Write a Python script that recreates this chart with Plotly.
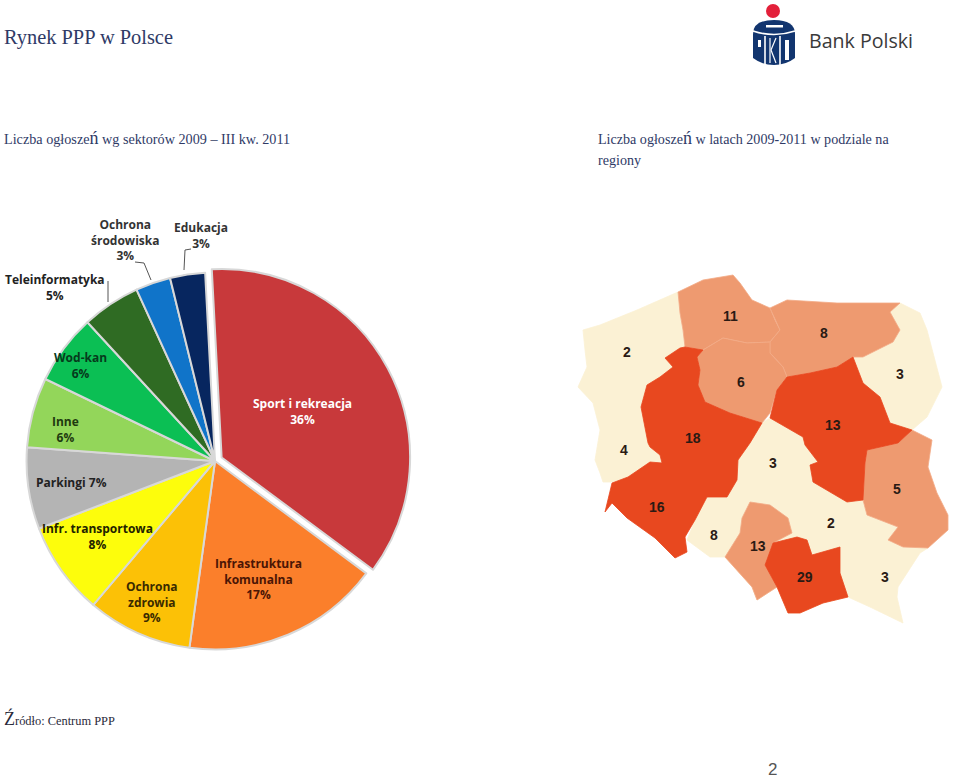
import plotly.graph_objects as go

W, H = 959, 781
NAVY = "#2f3a66"
SERIF = "Liberation Serif"

# ---- Pie data
sectors = ["Sport i rekreacja", "Infrastruktura komunalna", "Ochrona zdrowia", "Infr. transportowa",
           "Parkingi", "Inne", "Wod-kan", "Teleinformatyka", "Ochrona środowiska", "Edukacja"]
shares = [36, 17, 9, 8, 7, 6, 6, 5, 3, 3]
sector_colors = ["#c8393b", "#fb7f2b", "#fcc106", "#fdfd0c", "#b4b4b4",
                 "#93d65a", "#0bbf54", "#2f6b23", "#1074c9", "#07265f"]
pulls = [0.04, 0, 0, 0, 0, 0, 0, 0, 0, 0]

pie_labels = ["Sport i rekreacja<br>36%", "Infrastruktura<br>komunalna<br>17%", "Ochrona<br>zdrowia<br>9%",
              "Infr. transportowa<br>8%", "Parkingi 7%", "Inne<br>6%", "Wod-kan<br>6%",
              "Teleinformatyka<br>5%", "Ochrona<br>środowiska<br>3%", "Edukacja<br>3%"]
pie_label_x = [302, 258, 152, 97, 71, 65, 80, 55, 125, 201]
pie_label_y = [411, 579, 602, 536, 482, 429, 365, 287, 240, 235]
pie_label_colors = ["#ffffff", "#4a1505", "#3a2a00", "#222200", "#222222",
                    "#1f3a10", "#063a1c", "#222222", "#333333", "#333333"]

# ---- Map data: regional outlines
cream_west = [(678,292),(637,310),(600,325),(583,330),(585,350),(587,367),(578,387),(593,403),(600,430),(595,460),
              (600,473),(603,482),(612,482),(628,477),(650,462),(662,463),(660,455),(650,447),(648,443),(641,407),
              (647,385),(660,377),(673,367),(665,358),(680,348),(685,347),(683,330),(680,313)]
pomorskie = [(678,292),(703,280),(733,275),(740,283),(752,300),(770,308),(775,320),(780,330),(770,342),(747,343),
             (723,338),(703,350),(685,347),(683,330),(680,313)]
warminskie = [(770,308),(787,300),(837,303),(900,303),(890,312),(900,330),(893,342),(863,357),(853,357),(837,367),
              (810,373),(787,377),(783,367),(770,353),(770,342),(780,330)]
kujawskie = [(703,350),(697,357),(700,370),(698,385),(705,402),(730,413),(762,423),(770,413),(777,390),(787,377),
             (783,367),(770,353),(770,342),(747,343),(723,338)]
wlkp_dolnoslaskie = [(680,348),(685,347),(703,350),(697,357),(700,370),(698,385),(705,402),(730,413),(762,423),(750,443),
                     (738,460),(737,480),(727,497),(707,497),(695,520),(685,537),(687,552),(675,558),(655,538),(627,518),
                     (612,503),(605,512),(612,483),(628,477),(650,462),(662,463),(660,455),(650,447),(648,443),(641,407),
                     (647,385),(660,377),(673,367),(665,358)]
mazowieckie = [(787,377),(810,373),(837,367),(853,357),(863,383),(880,397),(890,423),(912,430),(898,443),(867,450),
               (865,463),(863,500),(847,502),(813,482),(810,465),(818,462),(805,445),(803,437),(770,418),(777,390)]
podlaskie = [(900,303),(920,313),(927,330),(937,370),(942,387),(927,417),(912,430),(890,423),(880,397),(863,383),
             (853,357),(863,357),(893,342),(900,330),(890,312)]
lubelskie = [(912,430),(932,440),(928,467),(937,493),(948,515),(948,530),(928,548),(903,547),(888,540),(898,527),
             (867,515),(863,500),(865,463),(867,450),(898,443)]
cream_south = [(762,423),(770,418),(803,437),(805,445),(818,462),(810,465),(813,482),(847,502),(863,500),(867,515),
               (898,527),(888,540),(903,547),(928,548),(920,553),(898,587),(897,597),(903,623),(870,607),(848,597),
               (823,603),(800,613),(788,613),(777,587),(757,600),(752,587),(725,557),(710,557),(687,540),(695,520),
               (707,497),(727,497),(737,480),(738,460),(750,443)]
slaskie = [(750,502),(770,505),(788,518),(792,533),(773,543),(765,565),(777,587),(757,600),(752,587),(725,557),
           (740,533),(742,518)]
malopolskie = [(773,543),(797,537),(807,540),(812,555),(840,547),(840,573),(848,597),(823,603),(800,613),(788,613),
               (777,587),(765,565)]
CREAM, SALMON, RED = "#fbf1d4", "#ee9a70", "#e8481f"
regions = [(cream_west, CREAM), (cream_south, CREAM), (podlaskie, CREAM), (pomorskie, SALMON), (warminskie, SALMON),
           (kujawskie, SALMON), (lubelskie, SALMON), (slaskie, SALMON), (wlkp_dolnoslaskie, RED),
           (mazowieckie, RED), (malopolskie, RED)]

map_values = ["11", "8", "2", "6", "3", "13", "18", "4", "3", "5", "16", "2", "8", "13", "29", "3"]
map_x = [730, 824, 627, 741, 900, 833, 693, 624, 773, 897, 657, 831, 714, 758, 805, 885]
map_y = [316, 333, 352, 382, 374, 425, 438, 450, 463, 489, 507, 523, 535, 546, 577, 577]

fig = go.Figure()

# Map
for outline, color in regions:
    fig.add_trace(go.Scatter(x=[p[0] for p in outline] + [outline[0][0]],
                             y=[p[1] for p in outline] + [outline[0][1]],
                             mode="lines", fill="toself", fillcolor=color,
                             line=dict(color=color if color != SALMON else "#f3ab87", width=0.8),
                             hoverinfo="skip", showlegend=False))

# Pie
cx, cy, half = 215, 461, 196
fig.add_trace(go.Pie(labels=sectors, values=shares, sort=False, direction="clockwise", rotation=-3,
                     pull=pulls, textinfo="none", hoverinfo="label+percent", showlegend=False,
                     marker=dict(colors=sector_colors, line=dict(color="#d8d8d8", width=2)),
                     domain=dict(x=[(cx-half)/W, (cx+half)/W], y=[1-(cy+half)/H, 1-(cy-half)/H])))

# Leader lines
leaders = [[(108,281),(108,302)], [(135,262),(144,263),(151,280)], [(191,249),(185,250),(184,270)]]
for seg in leaders:
    fig.add_trace(go.Scatter(x=[p[0] for p in seg], y=[p[1] for p in seg], mode="lines",
                             line=dict(color="#555555", width=1), hoverinfo="skip", showlegend=False))

ann = []
def text(x, y, s, size, color, font=SERIF, anchor="left"):
    ann.append(dict(x=x, y=y, xref="x", yref="y", text=s, showarrow=False, xanchor=anchor, yanchor="middle",
                    font=dict(family=font, size=size, color=color), align="left", borderpad=0))

for s, x, y, c in zip(pie_labels, pie_label_x, pie_label_y, pie_label_colors):
    ann.append(dict(x=x, y=y, xref="x", yref="y", text="<b>%s</b>" % s, showarrow=False, align="center",
                    font=dict(family="Open Sans", size=12, color=c)))
for s, x, y in zip(map_values, map_x, map_y):
    ann.append(dict(x=x, y=y, xref="x", yref="y", text="<b>%s</b>" % s, showarrow=False,
                    font=dict(family="Liberation Sans", size=14, color="#2a1a14")))

big = '<span style="font-size:18px">ń</span>'
text(3, 37, "Rynek PPP w Polsce", 20.4, NAVY)
text(3, 138, "Liczba ogłosze" + big + " wg sektorów 2009 – III kw. 2011", 14.2, NAVY)
text(597, 138, "Liczba ogłosze" + big + " w latach 2009-2011 w podziale na", 14.1, NAVY)
text(597, 160, "regiony", 14.1, NAVY)
text(3, 718, '<span style="font-size:18px">Ź</span>ródło: Centrum PPP', 12.4, "#2a2a3a")
text(772, 769, "2", 17, "#555555", font="Liberation Sans", anchor="center")
text(808, 40, "Bank Polski", 19.6, "#3a3a3a", font="Open Sans")

# Logo (decorative)
def xy(**k):
    return dict(xref="x", yref="y", **k)
shapes = [
    xy(type="circle", x0=766, x1=780, y0=4, y1=18, fillcolor="#e3203a", line_width=0),
    xy(type="path", path="M753,34 Q753,20 774,20 Q795,20 795,34 L795,58 Q786,65 774,65 Q762,65 753,58 Z",
       fillcolor="#12356f", line_width=0),
    xy(type="rect", x0=766, x1=783, y0=25, y1=27.5, fillcolor="white", line_width=0),
    xy(type="path", path="M753,31 Q774,38 795,31", line=dict(color="white", width=1.6)),
    xy(type="line", x0=765, x1=765, y0=36, y1=65, line=dict(color="white", width=1.6)),
    xy(type="line", x0=780, x1=780, y0=36, y1=65, line=dict(color="white", width=1.6)),
    xy(type="rect", x0=758, x1=761, y0=40, y1=47, fillcolor="white", line_width=0),
    xy(type="line", x0=770, x1=770, y0=38, y1=63, line=dict(color="white", width=1.2)),
    xy(type="line", x0=771, x1=776, y0=50, y1=38, line=dict(color="white", width=1.2)),
    xy(type="line", x0=771, x1=776, y0=50, y1=63, line=dict(color="white", width=1.2)),
    xy(type="rect", x0=785, x1=789, y0=40, y1=60, fillcolor="white", line_width=0),
]

fig.update_layout(width=W, height=H, margin=dict(l=0, r=0, t=0, b=0), paper_bgcolor="white", plot_bgcolor="white",
                  xaxis=dict(range=[0, W], visible=False, fixedrange=True),
                  yaxis=dict(range=[H, 0], visible=False, fixedrange=True),
                  annotations=ann, shapes=shapes, showlegend=False)
fig.write_html("out.html", config=dict(displayModeBar=False),
               post_script="document.body.style.margin='0';document.documentElement.style.overflow='hidden';")
